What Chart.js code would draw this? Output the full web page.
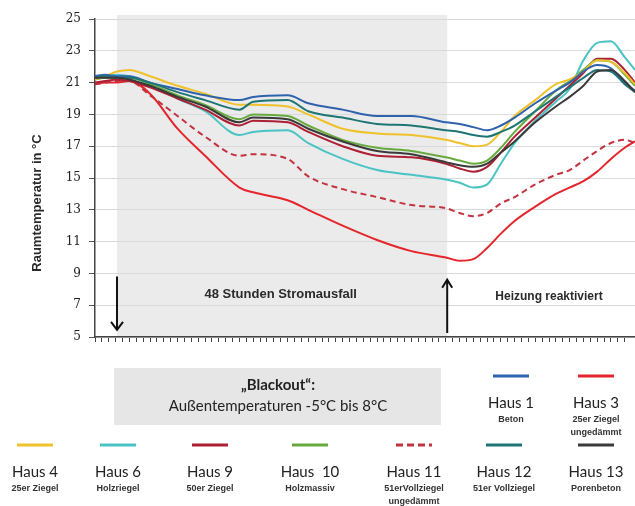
<!DOCTYPE html>
<html>
<head>
<meta charset="utf-8">
<script src="https://cdn.jsdelivr.net/npm/chart.js@4.4.0/dist/chart.umd.min.js"></script>
<style>
  body { margin: 0; background: #fff; }
  #wrap { width: 635px; height: 506px; }
</style>
</head>
<body>
<div id="wrap"><canvas id="raumChart" width="635" height="506"></canvas></div>
<script>
// Stunden ab Messbeginn
const hours = [0, 1.5, 3.2, 5, 8, 12, 16, 21, 23, 28, 31, 36, 41, 46, 51, 53, 55, 57, 59, 61, 64, 67, 69, 71, 73, 75, 77, 78.5];

// Raumtemperatur in °C je Haus
const haus1  = [21.4, 21.5, 21.4, 21.4, 21.0, 20.6, 20.2, 19.9, 20.1, 20.2, 19.7, 19.3, 18.9, 18.9, 18.5, 18.4, 18.2, 18.0, 18.3, 18.8, 19.7, 20.5, 21.0, 21.7, 22.1, 21.9, 21.0, 20.5];
const haus3  = [20.9, 21.0, 21.0, 21.1, 20.3, 18.1, 16.4, 14.4, 14.1, 13.6, 13.0, 12.0, 11.1, 10.4, 10.0, 9.8, 9.9, 10.6, 11.5, 12.3, 13.2, 14.0, 14.4, 14.8, 15.4, 16.2, 16.9, 17.3];
const haus4  = [21.2, 21.4, 21.7, 21.8, 21.4, 20.8, 20.3, 19.6, 19.6, 19.5, 19.0, 18.1, 17.8, 17.7, 17.4, 17.2, 17.0, 17.1, 17.9, 18.9, 19.9, 20.9, 21.2, 21.7, 22.4, 22.3, 21.6, 20.9];
const haus6  = [21.3, 21.4, 21.5, 21.4, 20.9, 20.0, 19.2, 17.7, 17.9, 18.0, 17.2, 16.2, 15.5, 15.2, 14.9, 14.7, 14.4, 14.6, 15.9, 17.2, 18.6, 19.8, 20.6, 22.4, 23.5, 23.6, 22.6, 21.8];
const haus9  = [21.0, 21.1, 21.2, 21.1, 20.7, 20.0, 19.3, 18.3, 18.6, 18.5, 17.9, 17.0, 16.4, 16.3, 15.9, 15.6, 15.4, 15.7, 16.6, 17.6, 18.8, 20.0, 20.8, 21.6, 22.5, 22.5, 21.8, 21.0];
const haus10 = [21.2, 21.3, 21.3, 21.3, 20.9, 20.2, 19.6, 18.7, 19.0, 18.9, 18.3, 17.4, 16.9, 16.7, 16.3, 16.1, 15.9, 16.1, 16.9, 17.9, 19.2, 20.5, 21.1, 21.8, 22.4, 22.3, 21.5, 20.8];
const haus11 = [20.9, 21.0, 21.1, 21.1, 20.2, 18.9, 17.6, 16.4, 16.5, 16.2, 15.1, 14.3, 13.8, 13.3, 13.1, 12.8, 12.6, 12.8, 13.4, 13.8, 14.6, 15.2, 15.5, 16.1, 16.7, 17.2, 17.4, 17.2];
const haus12 = [21.3, 21.4, 21.3, 21.3, 21.0, 20.4, 19.9, 19.3, 19.8, 19.9, 19.2, 18.8, 18.4, 18.3, 18.0, 17.9, 17.7, 17.6, 17.9, 18.3, 19.2, 20.1, 20.7, 21.3, 21.8, 21.7, 20.9, 20.4];
const haus13 = [21.3, 21.3, 21.3, 21.2, 20.8, 20.1, 19.5, 18.5, 18.8, 18.7, 18.1, 17.3, 16.7, 16.5, 16.0, 15.8, 15.7, 15.9, 16.6, 17.3, 18.5, 19.5, 20.1, 20.8, 21.7, 21.8, 21.1, 20.4];

// Stromausfall (Stunden)
const blackoutStart = 3.2;
const blackoutEnd = 51.2;

const yTicks = [5, 7, 9, 11, 13, 15, 17, 19, 21, 23, 25];

const series = [
  { name: 'Haus 13', info: ['Porenbeton'], data: haus13, color: '#3a3a3a' },
  { name: 'Haus 12', info: ['51er Vollziegel'], data: haus12, color: '#1f7575' },
  { name: 'Haus 1', info: ['Beton'], data: haus1, color: '#2f62ad' },
  { name: 'Haus 4', info: ['25er Ziegel'], data: haus4, color: '#efc22c' },
  { name: 'Haus  10', info: ['Holzmassiv'], data: haus10, color: '#67ab3e' },
  { name: 'Haus 9', info: ['50er Ziegel'], data: haus9, color: '#ad1f33' },
  { name: 'Haus 6', info: ['Holzriegel'], data: haus6, color: '#4ac3c3' },
  { name: 'Haus 11', info: ['51erVollziegel', 'ungedämmt'], data: haus11, color: '#c3323f', dash: [6, 4] },
  { name: 'Haus 3', info: ['25er Ziegel', 'ungedämmt'], data: haus3, color: '#e4262c' }
];

// Legendenreihenfolge wie im Original
const legendTop = ['Haus 1', 'Haus 3'];
const legendBottom = ['Haus 4', 'Haus 6', 'Haus 9', 'Haus  10', 'Haus 11', 'Haus 12', 'Haus 13'];

const decor = {
  id: 'decor',
  beforeDraw(chart) {
    const { ctx, chartArea, scales } = chart;
    const x0 = scales.x.getPixelForValue(blackoutStart);
    const x1 = scales.x.getPixelForValue(blackoutEnd);
    ctx.save();
    ctx.fillStyle = '#ebebeb';
    ctx.fillRect(x0, chartArea.top - 4, x1 - x0, chartArea.bottom - chartArea.top + 4);
    ctx.restore();
  },
  afterDraw(chart) {
    const { ctx, scales } = chart;
    const x = scales.x, y = scales.y;
    ctx.save();

    // Pfeile
    ctx.strokeStyle = '#111';
    ctx.lineWidth = 2;
    const ax = x.getPixelForValue(blackoutStart);
    const aTop = y.getPixelForValue(8.8), aBot = y.getPixelForValue(5.45);
    ctx.beginPath();
    ctx.moveTo(ax, aTop); ctx.lineTo(ax, aBot);
    ctx.moveTo(ax - 6, aBot - 8); ctx.lineTo(ax, aBot); ctx.lineTo(ax + 6, aBot - 8);
    ctx.stroke();
    const bx = x.getPixelForValue(blackoutEnd);
    const bTop = y.getPixelForValue(8.6), bBot = y.getPixelForValue(5.25);
    ctx.beginPath();
    ctx.moveTo(bx, bBot); ctx.lineTo(bx, bTop);
    ctx.moveTo(bx - 5, bTop + 8); ctx.lineTo(bx, bTop); ctx.lineTo(bx + 5, bTop + 8);
    ctx.stroke();

    // Beschriftung im Diagramm
    ctx.fillStyle = '#2a2a2a';
    ctx.font = 'bold 13px "Liberation Sans"';
    ctx.textAlign = 'center';
    ctx.textBaseline = 'middle';
    ctx.fillText('48 Stunden Stromausfall', x.getPixelForValue(27), y.getPixelForValue(7.7));
    ctx.font = 'bold 12px "Liberation Sans"';
    ctx.fillText('Heizung reaktiviert', x.getPixelForValue(66), y.getPixelForValue(7.55));

    // y-Achsentitel
    ctx.save();
    ctx.translate(37, 203);
    ctx.rotate(-Math.PI / 2);
    ctx.font = 'bold 13px "Liberation Sans"';
    ctx.fillStyle = '#2a2a2a';
    ctx.fillText('Raumtemperatur in °C', 0, 0);
    ctx.restore();

    // Blackout-Kasten
    ctx.fillStyle = '#e6e6e6';
    ctx.fillRect(114, 368, 327, 57);
    ctx.fillStyle = '#222';
    ctx.font = 'bold 15px Lato';
    ctx.fillText('\u201EBlackout\u201C:', 278, 385);
    ctx.font = '15px Lato';
    ctx.fillText('Außentemperaturen -5°C bis 8°C', 278, 406);

    // Legende
    const drawItem = (s, cx, lineY) => {
      ctx.strokeStyle = s.color;
      ctx.lineWidth = 3;
      ctx.setLineDash(s.dash ? [7, 4] : []);
      ctx.beginPath();
      ctx.moveTo(cx - 18, lineY); ctx.lineTo(cx + 18, lineY);
      ctx.stroke();
      ctx.setLineDash([]);
      ctx.fillStyle = '#222';
      ctx.font = '15px Lato';
      ctx.fillText(s.name, cx, lineY + 27);
      ctx.font = 'bold 9px "Liberation Sans"';
      ctx.fillStyle = '#333';
      s.info.forEach((t, i) => ctx.fillText(t, cx, lineY + 44 + i * 13));
    };
    const byName = n => series.find(s => s.name === n);
    [511, 596].forEach((cx, i) => drawItem(byName(legendTop[i]), cx, 376));
    [35, 118, 210, 310, 414, 504, 596].forEach((cx, i) => drawItem(byName(legendBottom[i]), cx, 445));

    ctx.restore();
  }
};

new Chart(document.getElementById('raumChart'), {
  type: 'line',
  data: {
    datasets: series.map(s => ({
      label: s.name,
      data: hours.map((h, i) => ({ x: h, y: s.data[i] })),
      borderColor: s.color,
      borderWidth: 2,
      borderDash: s.dash || [],
      pointRadius: 0,
      cubicInterpolationMode: 'monotone',
      fill: false
    }))
  },
  options: {
    responsive: false,
    devicePixelRatio: 1,
    animation: false,
    layout: { padding: { top: 19, right: 0, left: 0, bottom: 0 } },
    plugins: {
      legend: { display: false },
      tooltip: { enabled: false }
    },
    scales: {
      x: {
        type: 'linear',
        min: 0,
        max: 78.5,
        afterFit: scale => { scale.height = 169; },
        grid: { drawOnChartArea: false, drawTicks: true, tickLength: 5, color: '#444' },
        border: { color: '#444', width: 1.5 },
        ticks: { display: false, stepSize: 1 }
      },
      y: {
        min: 5,
        max: 25,
        afterFit: scale => { scale.width = 95; },
        afterBuildTicks: scale => { scale.ticks = yTicks.map(v => ({ value: v })); },
        grid: { color: '#d9d9d9', tickColor: '#555', tickLength: 6 },
        border: { color: '#444', width: 1.5 },
        ticks: { color: '#222', font: { family: 'DejaVu Serif', size: 12 }, padding: 8 }
      }
    }
  },
  plugins: [decor]
});
</script>
</body>
</html>
